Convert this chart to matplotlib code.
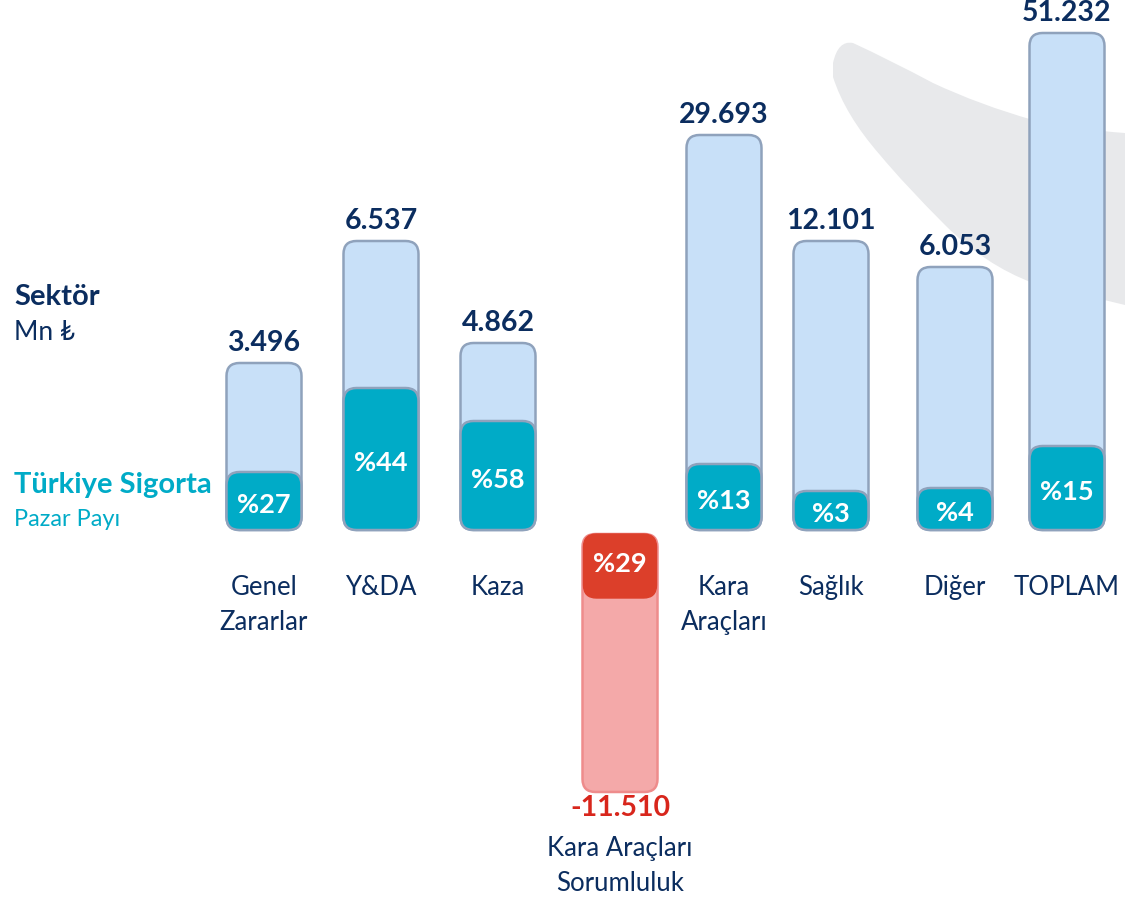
import matplotlib
matplotlib.use("Agg")
import matplotlib.pyplot as plt
from matplotlib.patches import FancyBboxPatch, PathPatch
from matplotlib.path import Path

plt.rcParams['font.family'] = ['Lato', 'DejaVu Sans']

# Data
categories = ["Genel\nZararlar", "Y&DA", "Kaza", "Kara Araçları\nSorumluluk",
              "Kara\nAraçları", "Sağlık", "Diğer", "TOPLAM"]
sektor = [3496, 6537, 4862, -11510, 29693, 12101, 6053, 51232]   # Mn TL
pazar_payi = [27, 44, 58, 29, 13, 3, 4, 15]                      # %
# drawn heights of the bars (the slide does not draw them to scale)
bar_height = [167, 289, 187, -258, 395, 289, 263, 497]
share_height = [58, 142, 109, 64, 66, 39, 42, 84]

# layout
x_pos = [264, 381, 498, 620, 724, 831, 955, 1067]
bar_w = 75
navy = "#0B2D5F"
teal = "#00ABC7"
light_blue = "#C8E0F8"
edge = "#8FA2BC"
pink = "#F4A9A9"
pink_edge = "#EE8C8C"
red = "#DC3F2A"
red_text = "#D8261C"

fig = plt.figure(figsize=(11.25, 8.99), dpi=100)
ax = fig.add_axes([0, 0, 1, 1])
ax.set_xlim(0, 1125)
ax.set_ylim(-369, 530)
ax.axis('off')

# grey swoosh in the background
verts = [(833, 467), (838, 490), (853, 487),
         (890, 470), (933, 447),
         (980, 425), (1033, 410),
         (1080, 400), (1125, 397),
         (1125, 225),
         (1080, 236), (1033, 247),
         (985, 265), (945, 305),
         (905, 345), (880, 375),
         (845, 415), (833, 453),
         (833, 467)]
codes = [Path.MOVETO, Path.CURVE3, Path.CURVE3,
         Path.CURVE3, Path.CURVE3,
         Path.CURVE3, Path.CURVE3,
         Path.CURVE3, Path.CURVE3,
         Path.LINETO,
         Path.CURVE3, Path.CURVE3,
         Path.CURVE3, Path.CURVE3,
         Path.CURVE3, Path.CURVE3,
         Path.CURVE3, Path.CURVE3,
         Path.CLOSEPOLY]
ax.add_patch(PathPatch(Path(verts, codes), facecolor="#E8E9EB", edgecolor="none", zorder=0))

for x, cat, val, pct, h, sh in zip(x_pos, categories, sektor, pazar_payi, bar_height, share_height):
    left = x - bar_w / 2
    label = f"{val:,}".replace(",", ".")
    if h > 0:
        ax.add_patch(FancyBboxPatch((left, 0), bar_w, h, boxstyle="round,pad=0,rounding_size=13",
                                    facecolor=light_blue, edgecolor=edge, linewidth=1.8, zorder=2))
        ax.add_patch(FancyBboxPatch((left, 0), bar_w, sh, boxstyle="round,pad=0,rounding_size=13",
                                    facecolor=teal, edgecolor=edge, linewidth=1.8, zorder=3))
        ax.text(x, h + 12, label, ha='center', va='baseline', fontsize=20.5,
                fontweight='bold', color=navy)
        ax.text(x, sh / 2 - 4, f"%{pct}", ha='center', va='center', fontsize=19.5,
                fontweight='bold', color='white', zorder=4)
        ax.text(x, -45, cat, ha='center', va='top', fontsize=18.5, color=navy,
                linespacing=1.5)
    else:
        top = -4
        ax.add_patch(FancyBboxPatch((left, top + h), bar_w, -h, boxstyle="round,pad=0,rounding_size=13",
                                    facecolor=pink, edgecolor=pink_edge, linewidth=1.8, zorder=2))
        ax.add_patch(FancyBboxPatch((left + 1, top - sh), bar_w - 2, sh, boxstyle="round,pad=0,rounding_size=13",
                                    facecolor=red, edgecolor=red, linewidth=1.0, zorder=3))
        ax.text(x, top - sh / 2 + 2, f"%{pct}", ha='center', va='center', fontsize=19.5,
                fontweight='bold', color='white', zorder=4)
        ax.text(x, top + h - 16, label, ha='center', va='center', fontsize=20.5,
                fontweight='bold', color=red_text)
        ax.text(x, top + h - 44, cat, ha='center', va='top', fontsize=18.5, color=navy,
                linespacing=1.5)

# left side legend texts
ax.text(14, 530 - 297, "Sektör", ha='left', va='center', fontsize=21, fontweight='bold', color=navy)
ax.text(14, 530 - 332, "Mn ₺", ha='left', va='center', fontsize=19, color=navy)
ax.text(14, 530 - 485, "Türkiye Sigorta", ha='left', va='center', fontsize=21,
        fontweight='bold', color=teal)
ax.text(14, 530 - 520, "Pazar Payı", ha='left', va='center', fontsize=17, color=teal)

fig.savefig("out.png", dpi=100)
